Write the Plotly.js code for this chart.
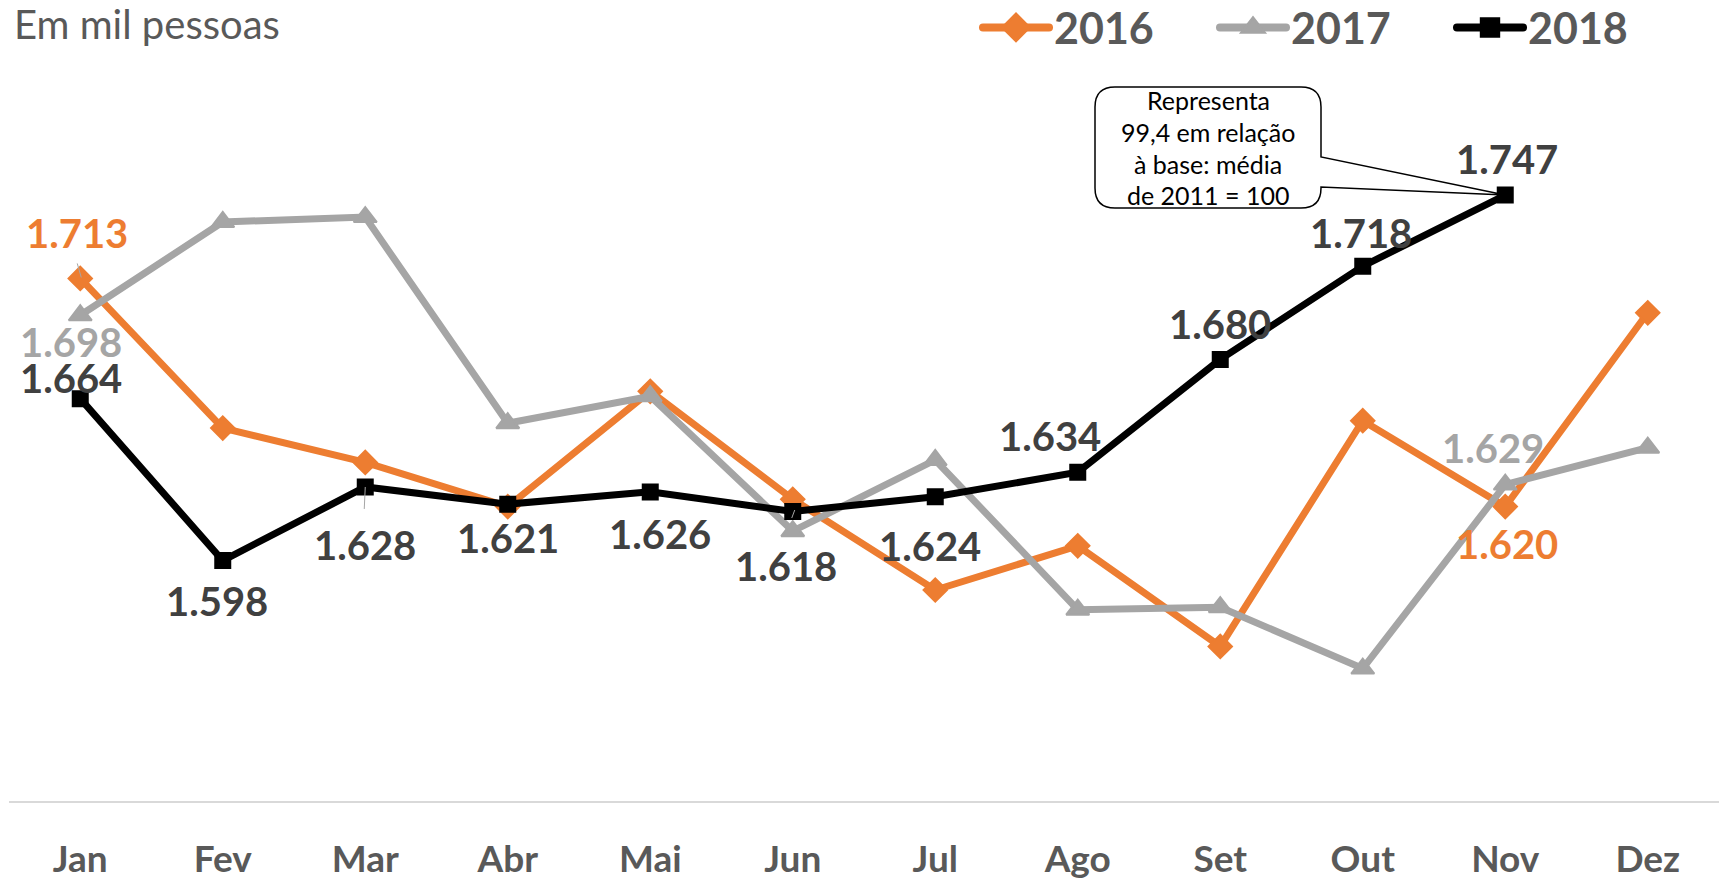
<!DOCTYPE html>
<html>
<head>
<meta charset="utf-8">
<script src="https://cdn.plot.ly/plotly-3.0.1.min.js"></script>
<style>
  html, body { margin: 0; padding: 0; background: #ffffff; overflow: hidden; }
  #chart { width: 1719px; height: 879px; }
</style>
</head>
<body>
<div id="chart"></div>
<script>
// ---------- data (thousands of people) ----------
const months = ['Jan', 'Fev', 'Mar', 'Abr', 'Mai', 'Jun', 'Jul', 'Ago', 'Set', 'Out', 'Nov', 'Dez'];
const seriesNames = ['2016', '2017', '2018'];
const v2016 = [1713, 1652, 1638, 1620, 1667, 1623, 1586, 1604, 1563, 1655, 1620, 1699];
const v2017 = [1698, 1736, 1738, 1654, 1665, 1610, 1639, 1578, 1579, 1554, 1629, 1644];
const v2018 = [1664, 1598, 1628, 1621, 1626, 1618, 1624, 1634, 1680, 1718, 1747, null];
const unitText = 'Em mil pessoas';
const calloutLines = ['Representa', '99,4 em relação', 'à base: média', 'de 2011 = 100'];

// ---------- styling / layout constants ----------
const W = 1719, H = 879;
const M = { l: 9, r: 0, t: 65, b: 78 };
const PW = W - M.l - M.r, PH = H - M.t - M.b;
const yRange = [1500, 1800];
const FONT = 'Lato, "Open Sans", sans-serif';
const colors = { '2016': '#ED7D31', '2017': '#A5A5A5', '2018': '#000000' };
const labelColors = { '2016': '#ED7D31', '2017': '#A5A5A5', '2018': '#404040' };
const symbols = { '2016': 'diamond', '2017': 'triangle-up', '2018': 'square' };
const msizes = { '2016': 18, '2017': 20, '2018': 15 };
const legendScale = { '2016': 1.3, '2017': 1.25, '2018': 1.2 };
const values = { '2016': v2016, '2017': v2017, '2018': v2018 };

// which data labels are shown, with pixel offsets of label centre (dx right, dy down)
const labelSpecs = [
  { s: '2016', i: 0, dx: -3, dy: -45 },
  { s: '2016', i: 10, dx: 2, dy: 37 },
  { s: '2017', i: 0, dx: -9, dy: 27 },
  { s: '2017', i: 10, dx: -12, dy: -37 },
  { s: '2018', i: 0, dx: -9, dy: -21 },
  { s: '2018', i: 1, dx: -6, dy: 40 },
  { s: '2018', i: 2, dx: 0, dy: 58 },
  { s: '2018', i: 3, dx: 0, dy: 34 },
  { s: '2018', i: 4, dx: 10, dy: 42 },
  { s: '2018', i: 5, dx: -7, dy: 54 },
  { s: '2018', i: 6, dx: -5, dy: 49 },
  { s: '2018', i: 7, dx: -28, dy: -36 },
  { s: '2018', i: 8, dx: 0, dy: -35 },
  { s: '2018', i: 9, dx: -2, dy: -33 },
  { s: '2018', i: 10, dx: 2, dy: -36 }
];
// thin label leader lines (pixel offsets from the point, y up)
const leaderSpecs = [
  { s: '2016', i: 0, x0: -3, y0: 15, x1: 1, y1: 1 },
  { s: '2018', i: 2, x0: 0, y0: 0, x1: -1, y1: -22 },
  { s: '2018', i: 5, x0: 2, y0: 1.5, x1: -1, y1: -6.5 }
];

function fmt(v) {
  const s = String(Math.round(v));
  return s.replace(/\B(?=(\d{3})+(?!\d))/g, '.');
}
// pixel -> paper helpers
const px = x => (x - M.l) / PW;
const py = y => 1 - (y - M.t) / PH;

// ---------- traces ----------
const traces = seriesNames.map(s => ({
  type: 'scatter',
  mode: 'lines+markers',
  name: s,
  x: months,
  y: values[s],
  line: { color: colors[s], width: 7 },
  marker: { symbol: symbols[s], size: msizes[s], color: colors[s],
            line: { color: colors[s], width: 2 } },
  hoverinfo: 'skip',
  cliponaxis: false
}));

// ---------- annotations ----------
const annotations = labelSpecs.map(l => ({
  x: months[l.i], y: values[l.s][l.i], xref: 'x', yref: 'y',
  text: '<b>' + fmt(values[l.s][l.i]) + '</b>',
  showarrow: false, xanchor: 'center', yanchor: 'middle',
  xshift: l.dx, yshift: -l.dy,
  font: { family: FONT, size: 40, color: labelColors[l.s] }
}));

annotations.push({
  xref: 'paper', yref: 'paper', x: px(12), y: py(24),
  xanchor: 'left', yanchor: 'middle', showarrow: false,
  text: unitText,
  font: { family: FONT, size: 40, color: '#595959' }
});

// callout box
const box = { x0: 1095, x1: 1321, y0: 87, y1: 208, r: 20, a: 157, b: 187 };
const lineCenters = [100, 132, 164, 195];
calloutLines.forEach((t, k) => annotations.push({
  xref: 'paper', yref: 'paper', x: px((box.x0 + box.x1) / 2), y: py(lineCenters[k]),
  xanchor: 'center', yanchor: 'middle', showarrow: false,
  text: t, font: { family: FONT, size: 25, color: '#000000' }
}));

// tip of callout at Nov 2018 data point (computed from data & axis range)
const tipIdx = 10;
const tipX = (tipIdx + 0.5) / months.length;
const tipY = (v2018[tipIdx] - yRange[0]) / (yRange[1] - yRange[0]);
const X0 = px(box.x0), X1 = px(box.x1), YT = py(box.y0), YB = py(box.y1);
const RX = box.r / PW, RY = box.r / PH;
const calloutPath =
  `M ${X0 + RX},${YT} L ${X1 - RX},${YT} Q ${X1},${YT} ${X1},${YT - RY} ` +
  `L ${X1},${py(box.a)} L ${tipX},${tipY} L ${X1},${py(box.b)} ` +
  `L ${X1},${YB + RY} Q ${X1},${YB} ${X1 - RX},${YB} ` +
  `L ${X0 + RX},${YB} Q ${X0},${YB} ${X0},${YB + RY} ` +
  `L ${X0},${YT - RY} Q ${X0},${YT} ${X0 + RX},${YT} Z`;

const shapes = [{
  type: 'path', xref: 'paper', yref: 'paper', path: calloutPath,
  line: { color: '#000000', width: 1.5 }, fillcolor: 'rgba(0,0,0,0)', layer: 'above'
}];
leaderSpecs.forEach(l => shapes.push({
  type: 'line', xref: 'x', yref: 'y',
  xsizemode: 'pixel', ysizemode: 'pixel',
  xanchor: l.i, yanchor: values[l.s][l.i],
  x0: l.x0, y0: l.y0, x1: l.x1, y1: l.y1,
  line: { color: '#A6A6A6', width: 1 }, layer: 'above'
}));

const layout = {
  width: W, height: H,
  margin: M,
  paper_bgcolor: '#ffffff', plot_bgcolor: '#ffffff',
  showlegend: true,
  legend: {
    orientation: 'h', xref: 'container', yref: 'container',
    x: 978 / W, xanchor: 'left', y: 1 - 27.5 / H, yanchor: 'middle',
    font: { family: FONT, size: 43, color: '#595959', weight: 'bold' },
    bgcolor: 'rgba(0,0,0,0)', itemwidth: 66, entrywidth: 156, entrywidthmode: 'pixels',
    traceorder: 'normal', itemclick: false, itemdoubleclick: false
  },
  xaxis: {
    type: 'category', range: [-0.5, 11.5], fixedrange: true,
    showline: true, linecolor: '#D9D9D9', linewidth: 2,
    showgrid: false, zeroline: false, ticks: '',
    ticklabelstandoff: 25,
    tickfont: { family: FONT, size: 37, color: '#595959', weight: 'bold' },
    automargin: false
  },
  yaxis: {
    range: yRange, visible: false, showgrid: false, zeroline: false, fixedrange: true
  },
  annotations: annotations,
  shapes: shapes,
  font: { family: FONT }
};

Plotly.newPlot('chart', traces, layout, { displayModeBar: false, staticPlot: true })
  .then(gd => {
    // lengthen legend line samples and enlarge their markers (Excel style)
    const items = gd.querySelectorAll('.legend .traces');
    items.forEach((t, k) => {
      const s = seriesNames[k];
      t.querySelectorAll('.legendlines path').forEach(p => {
        p.setAttribute('d', 'M5,0h66');
        p.style.strokeWidth = '8px';
        p.style.strokeLinecap = 'round';
      });
      t.querySelectorAll('.legendpoints path.scatterpts').forEach(p => {
        p.setAttribute('transform', `translate(38,0) scale(${legendScale[s] || 1.2})`);
      });
    });
  });
</script>
</body>
</html>
